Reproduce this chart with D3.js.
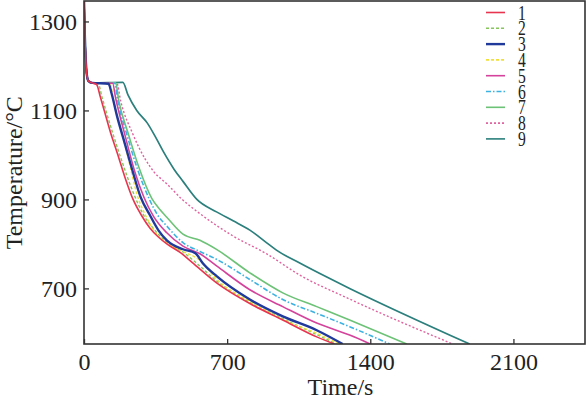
<!DOCTYPE html>
<html>
<head>
<meta charset="utf-8">
<script src="https://cdn.jsdelivr.net/npm/d3@7"></script>
<style>
  body { margin: 0; background: #fff; }
  svg { display: block; }
  text { font-family: "Liberation Serif", "DejaVu Serif", serif; fill: #222; }
</style>
</head>
<body>
<svg width="586" height="399"></svg>
<script>
const width = 586, height = 399;
const margin = {top: 1, right: 1, bottom: 55, left: 84};

// cooling curves, [time s, temperature °C]
const start = [[0, 1350], [4, 1270], [8, 1220], [14, 1180], [22, 1166], [40, 1162]];
const s1 = [[62, 1158], [80, 1130], [100, 1098], [130, 1050], [163, 1004], [200, 950], [240, 900], [280, 865], [322, 836], [365, 815], [405, 800], [470, 781], [530, 758], [650, 712], [811, 666], [972, 629], [1138, 591], [1225, 575]];
const s2 = [[70, 1159], [88, 1130], [110, 1095], [175, 1000], [250, 905], [290, 866], [330, 840], [410, 802], [480, 783], [540, 761], [650, 716], [811, 669], [972, 632], [1138, 596], [1235, 575]];
const s3 = [[120, 1160], [135, 1138], [160, 1090], [200, 1025], [240, 960], [277, 905], [322, 865], [365, 830], [405, 808], [484, 788], [545, 779], [580, 757], [650, 727], [811, 675], [972, 637], [1138, 606], [1265, 575]];
const s4 = [[128, 1160], [142, 1128], [180, 1060], [220, 985], [260, 910], [300, 865], [350, 825], [405, 802], [484, 783], [567, 763], [650, 720], [811, 671], [972, 630], [1138, 599], [1250, 575]];
const s5 = [[140, 1161], [155, 1127], [200, 1045], [250, 960], [293, 905], [340, 862], [405, 825], [484, 795], [567, 778], [650, 750], [811, 697], [972, 659], [1138, 622], [1299, 595], [1400, 575]];
const s6 = [[150, 1161], [165, 1122], [210, 1045], [260, 970], [318, 902], [360, 865], [405, 840], [484, 803], [567, 783], [650, 765], [811, 720], [972, 675], [1138, 644], [1299, 614], [1495, 575]];
const s7 = [[155, 1162], [170, 1122], [215, 1050], [270, 970], [332, 902], [370, 878], [405, 860], [484, 822], [567, 808], [650, 787], [811, 735], [972, 690], [1138, 659], [1299, 629], [1578, 575]];
const s8 = [[160, 1162], [180, 1120], [236, 1050], [300, 990], [342, 962], [405, 935], [480, 900], [567, 868], [728, 818], [892, 778], [1055, 730], [1299, 676], [1803, 575]];
const s9 = [[190, 1163], [215, 1135], [258, 1100], [309, 1072], [350, 1040], [391, 1005], [440, 968], [485, 940], [552, 900], [648, 872], [729, 852], [811, 831], [892, 803], [941, 786], [1055, 757], [1185, 726], [1299, 700], [1886, 575]];

const names = ["1", "2", "3", "4", "5", "6", "7", "8", "9"];
const colors = ["#e8344f", "#86c65a", "#1f3a9a", "#f2e03a", "#d4429c", "#3cb2e2", "#6cc276", "#e0629e", "#2b7f7c"];
const dashes = [null, "3,2", null, "3,2", null, "5,2,1.5,2", null, "2,2", null];
const widths = [1.6, 1.4, 2.4, 1.4, 1.6, 1.6, 1.6, 1.4, 1.7];
const series = [s1, s2, s3, s4, s5, s6, s7, s8, s9];

const xTicks = [0, 700, 1400, 2100];
const yTicks = [700, 900, 1100, 1300];

let svg = d3.select("svg");

let xScale = d3.scaleLinear().domain([0, 2450]).range([margin.left, width - margin.right]);
let yScale = d3.scaleLinear().domain([575, 1346]).range([height - margin.bottom, margin.top]);

svg.append("defs").append("clipPath").attr("id", "clip")
  .append("rect")
  .attr("x", margin.left).attr("y", margin.top)
  .attr("width", width - margin.right - margin.left)
  .attr("height", yScale(575) - margin.top);

let line = d3.line()
  .x(d => xScale(d[0]))
  .y(d => yScale(d[1]))
  .curve(d3.curveMonotoneX);

// hottest curves first, the red one ends on top
let order = [8, 7, 6, 5, 4, 1, 3, 2, 0];
let g = svg.append("g").attr("clip-path", "url(#clip)");
order.forEach(i => {
  g.append("path")
    .datum(start.concat(series[i]))
    .attr("d", line)
    .attr("fill", "none")
    .attr("stroke", colors[i])
    .attr("stroke-width", widths[i])
    .attr("stroke-dasharray", dashes[i]);
});

// axes, ticks point inward
let xAxis = d3.axisBottom(xScale).tickValues(xTicks).tickFormat(d3.format("d"))
  .tickSizeInner(-5).tickSizeOuter(0).tickPadding(9);
let yAxis = d3.axisLeft(yScale).tickValues(yTicks).tickFormat(d3.format("d"))
  .tickSizeInner(-5).tickSizeOuter(0).tickPadding(7);

let gx = svg.append("g").attr("transform", `translate(0, ${yScale(575)})`).call(xAxis);
let gy = svg.append("g").attr("transform", `translate(${margin.left}, 0)`).call(yAxis);
[gx, gy].forEach(a => {
  a.selectAll("text").style("font-size", "24px").attr("fill", "#222");
  a.selectAll("line").attr("stroke", "#333").attr("stroke-width", 1.3);
  a.select(".domain").remove();
});

// frame
svg.append("rect")
  .attr("x", margin.left).attr("y", margin.top)
  .attr("width", width - margin.right - margin.left)
  .attr("height", yScale(575) - margin.top)
  .attr("fill", "none")
  .attr("stroke", "#333")
  .attr("stroke-width", 1.6);

svg.append("text")
  .attr("x", (xScale(0) + xScale(2450)) / 2 + 6)
  .attr("y", 395)
  .attr("text-anchor", "middle")
  .style("font-size", "24px")
  .text("Time/s");

svg.append("text")
  .attr("transform", `translate(22, ${yScale(960)}) rotate(-90)`)
  .attr("text-anchor", "middle")
  .style("font-size", "24px")
  .text("Temperature/°C");

// legend
let legend = svg.append("g");
names.forEach((n, i) => {
  let y = 12.5 + i * 15.8;
  legend.append("line")
    .attr("x1", 486).attr("x2", 505)
    .attr("y1", y).attr("y2", y)
    .attr("stroke", colors[i])
    .attr("stroke-width", i === 2 ? 2.4 : 1.6)
    .attr("stroke-dasharray", dashes[i]);
  legend.append("text")
    .attr("transform", `translate(518, ${y + 7}) scale(0.78, 1)`)
    .style("font-size", "20px")
    .text(n);
});
</script>
</body>
</html>
